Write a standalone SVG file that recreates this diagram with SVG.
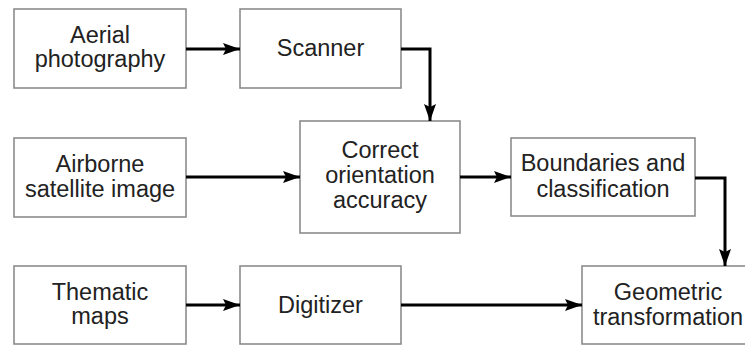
<svg xmlns="http://www.w3.org/2000/svg" width="745" height="345" viewBox="0 0 745 345">
  <defs>
    <marker id="arrow" markerUnits="userSpaceOnUse" markerWidth="18" markerHeight="14" refX="17" refY="7" orient="auto">
      <path d="M0,1 L17,7 L0,13 L3,7 Z" fill="#000"/>
    </marker>
    <style>
      .box { fill: #fff; stroke: #8c8c8c; stroke-width: 1.6; }
      .lbl { font-family: "Liberation Sans", Arial, sans-serif; font-size: 23.5px; fill: #222; text-anchor: middle; }
      .wire { fill: none; stroke: #000; stroke-width: 3; marker-end: url(#arrow); }
    </style>
  </defs>
  <rect width="745" height="345" fill="#fff"/>

  <g id="aerial">
    <rect class="box" x="14" y="9" width="172" height="79"/>
    <text class="lbl" x="100" y="43">Aerial</text>
    <text class="lbl" x="100" y="67">photography</text>
  </g>
  <g id="scanner">
    <rect class="box" x="240" y="9" width="161" height="79"/>
    <text class="lbl" x="320.5" y="56">Scanner</text>
  </g>
  <g id="airborne">
    <rect class="box" x="14" y="138" width="172" height="79"/>
    <text class="lbl" x="100" y="172">Airborne</text>
    <text class="lbl" x="100" y="197">satellite image</text>
  </g>
  <g id="correct">
    <rect class="box" x="300" y="121" width="160" height="112"/>
    <text class="lbl" x="380" y="158">Correct</text>
    <text class="lbl" x="380" y="183">orientation</text>
    <text class="lbl" x="380" y="208">accuracy</text>
  </g>
  <g id="boundaries">
    <rect class="box" x="511" y="138" width="184" height="78"/>
    <text class="lbl" x="603" y="171">Boundaries and</text>
    <text class="lbl" x="603" y="197">classification</text>
  </g>
  <g id="thematic">
    <rect class="box" x="14" y="266" width="172" height="78"/>
    <text class="lbl" x="100" y="300">Thematic</text>
    <text class="lbl" x="100" y="324">maps</text>
  </g>
  <g id="digitizer">
    <rect class="box" x="240" y="266" width="161" height="78"/>
    <text class="lbl" x="320.5" y="313">Digitizer</text>
  </g>
  <g id="geometric">
    <rect class="box" x="582" y="266" width="180" height="78"/>
    <text class="lbl" x="668" y="300">Geometric</text>
    <text class="lbl" x="668" y="325">transformation</text>
  </g>

  <g id="connectors">
    <path class="wire" d="M186,49 H240"/>
    <path class="wire" d="M401,49 H430 V121"/>
    <path class="wire" d="M186,177 H300"/>
    <path class="wire" d="M460,177 H511"/>
    <path class="wire" d="M695,178 H725 V266"/>
    <path class="wire" d="M186,305 H240"/>
    <path class="wire" d="M401,305 H582"/>
  </g>
</svg>
